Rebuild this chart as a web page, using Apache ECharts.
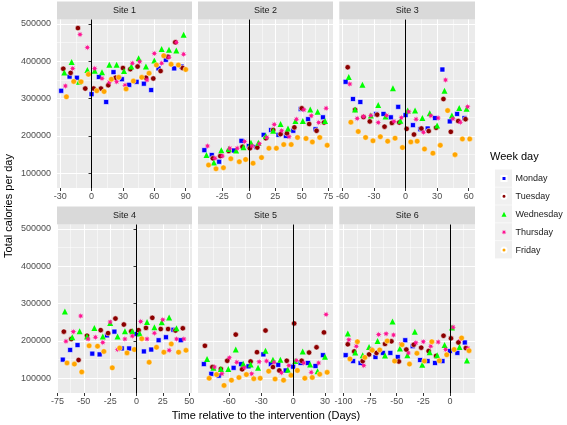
<!DOCTYPE html>
<html><head><meta charset="utf-8">
<script src="https://cdn.jsdelivr.net/npm/echarts@6/dist/echarts.min.js"></script>
<style>html,body{margin:0;padding:0;background:#fff}#c{width:567px;height:425px}</style>
</head><body><div id="c"></div>
<script>
// ---------------- DATA ----------------
const weekdays = ['Monday', 'Tuesday', 'Wednesday', 'Thursday', 'Friday'];
const siteNames = ['Site 1', 'Site 2', 'Site 3', 'Site 4', 'Site 5', 'Site 6'];
// [day relative to intervention, total calories (thousands)]
const s1Mon = [[-29,321],[-21,359],[-14,356],[0,312],[7,358],[14,291],[21,371],[29,352],[36,337],[43,345],[50,340],[57,323],[64,381],[71,404],[79,381],[86,386]];
const s1Tue = [[-27,380],[-20,369],[-13,489],[-6,327],[2,327],[9,327],[16,336],[23,356],[30,382],[37,379],[44,386],[52,356],[59,354],[66,374],[73,412],[80,451],[87,382]];
const s1Wed = [[-26,370],[-19,398],[-12,345],[-4,377],[3,375],[10,371],[17,391],[24,391],[31,374],[38,386],[45,408],[52,386],[60,402],[67,433],[74,431],[81,429],[88,471]];
const s1Thu = [[-25,334],[-18,381],[-11,472],[-4,437],[3,381],[10,354],[17,344],[24,345],[32,336],[39,395],[46,399],[53,350],[60,421],[67,395],[74,411],[81,451],[88,419]];
const s1Fri = [[-24,305],[-17,346],[-10,345],[-3,365],[5,321],[12,319],[19,352],[26,357],[33,326],[40,347],[48,357],[55,368],[62,390],[69,415],[76,392],[83,390],[90,378]];

const s2Mon = [[-42,162],[-35,149],[-28,131],[-14,161],[-7,187],[0,173],[7,170],[14,203],[21,216],[28,203],[35,200],[42,214],[49,272],[56,245],[63,218],[70,250]];
const s2Tue = [[-34,140],[-27,146],[-19,160],[-6,171],[1,167],[8,169],[16,194],[23,216],[30,205],[36,207],[43,223],[50,274],[57,232],[64,214],[71,236]];
const s2Wed = [[-40,149],[-33,129],[-26,162],[-19,165],[-12,161],[-5,170],[2,182],[9,182],[16,200],[23,214],[30,232],[37,220],[44,240],[51,240],[58,271],[65,265],[72,240]];
const s2Thu = [[-39,173],[-32,140],[-25,146],[-18,167],[-11,167],[-4,185],[3,173],[10,179],[17,196],[24,231],[31,214],[38,198],[45,245],[52,270],[59,254],[66,236],[73,274]];
const s2Fri = [[-38,122],[-31,112],[-24,115],[-17,139],[-9,131],[-3,137],[4,127],[12,142],[19,167],[26,167],[33,177],[40,177],[46,196],[54,193],[60,184],[67,196],[74,175]];

const s3Mon = [[-57,345],[-50,299],[-43,291],[-28,259],[-21,259],[-14,250],[-7,278],[0,256],[7,229],[14,218],[21,220],[28,248],[35,378],[42,239],[49,259],[56,248]];
const s3Tue = [[-55,384],[-48,270],[-40,251],[-34,239],[-27,257],[-20,225],[-13,235],[-6,236],[1,219],[8,204],[15,220],[22,213],[29,222],[36,299],[43,211],[50,240],[57,245]];
const s3Wed = [[-54,358],[-48,271],[-41,337],[-33,255],[-26,283],[-19,252],[-12,328],[-5,241],[2,268],[9,268],[16,248],[23,261],[30,228],[37,321],[44,255],[51,275],[58,273]];
const s3Thu = [[-53,339],[-46,247],[-40,252],[-33,255],[-26,236],[-18,255],[-11,239],[-4,249],[3,265],[10,245],[17,210],[24,254],[31,248],[38,350],[45,246],[52,237],[59,278]];
const s3Fri = [[-52,237],[-45,212],[-38,196],[-31,187],[-24,198],[-17,186],[-10,194],[-3,169],[5,184],[11,186],[18,165],[26,154],[33,175],[40,268],[47,150],[54,192],[61,192]];

const s4Mon = [[-70,150],[-63,176],[-56,189],[-42,166],[-35,164],[-28,215],[-21,225],[-14,180],[-7,180],[0,219],[7,172],[14,177],[21,202],[28,210],[35,230],[42,202]];
const s4Tue = [[-69,225],[-62,205],[-55,149],[-47,214],[-34,229],[-27,221],[-20,260],[-12,244],[-5,226],[2,229],[9,235],[15,262],[23,232],[30,232],[37,228],[44,234]];
const s4Wed = [[-68,279],[-61,210],[-54,226],[-47,212],[-40,235],[-32,212],[-25,248],[-18,212],[-11,226],[-4,226],[3,220],[10,251],[17,237],[24,250],[31,263],[38,234]];
const s4Thu = [[-67,199],[-60,225],[-53,267],[-46,205],[-39,210],[-32,196],[-25,251],[-18,177],[-11,205],[-4,213],[4,252],[10,205],[17,221],[25,257],[31,175],[38,205],[45,205]];
const s4Fri = [[-66,141],[-59,138],[-52,117],[-45,187],[-37,186],[-31,172],[-23,128],[-16,181],[-9,168],[-2,177],[5,206],[12,143],[19,183],[26,170],[33,192],[40,170],[47,175]];

const s5Mon = [[-84,138],[-77,112],[-70,107],[-56,128],[-49,138],[-42,132],[-28,164],[-21,138],[-14,136],[-7,121],[0,131],[7,141],[14,141],[21,133],[28,162]];
const s5Tue = [[-83,187],[-76,130],[-68,125],[-62,147],[-54,217],[-48,124],[-40,145],[-34,170],[-26,228],[-19,130],[-13,121],[-6,147],[1,247],[8,147],[15,169],[22,183],[29,223]];
const s5Wed = [[-81,152],[-75,128],[-68,125],[-61,125],[-54,177],[-47,139],[-40,137],[-33,128],[-26,174],[-19,150],[-12,150],[-5,123],[2,146],[9,172],[16,137],[23,119],[30,158]];
const s5Thu = [[-74,130],[-67,112],[-60,155],[-53,143],[-46,128],[-39,112],[-32,144],[-25,146],[-18,143],[-11,115],[-4,134],[3,148],[10,141],[17,116],[24,141],[31,271]];
const s5Fri = [[-79,100],[-72,110],[-65,81],[-58,95],[-51,102],[-44,110],[-37,99],[-31,100],[-23,119],[-17,98],[-9,95],[-2,108],[4,121],[11,100],[18,102],[25,111],[32,116]];

const s6Mon = [[-98,162],[-91,146],[-84,141],[-70,157],[-63,168],[-56,168],[-49,157],[-42,202],[-35,186],[-28,149],[-21,146],[-14,141],[-7,146],[0,173],[7,168],[14,196]];
const s6Tue = [[-96,191],[-90,172],[-82,146],[-76,164],[-69,168],[-61,192],[-55,199],[-48,145],[-41,177],[-34,190],[-27,182],[-20,173],[-13,160],[-6,214],[1,207],[8,196],[15,181]];
const s6Wed = [[-96,220],[-89,169],[-82,162],[-76,184],[-68,200],[-61,161],[-54,252],[-47,180],[-40,162],[-33,225],[-26,136],[-19,170],[-12,162],[-5,189],[2,236],[9,184],[16,148]];
const s6Thu = [[-95,203],[-88,186],[-81,134],[-74,178],[-67,217],[-60,219],[-53,216],[-46,192],[-39,168],[-32,195],[-25,198],[-18,186],[-11,197],[-4,177],[3,237],[10,204],[17,180]];
const s6Fri = [[-94,152],[-87,198],[-80,156],[-73,175],[-66,176],[-59,200],[-52,146],[-45,190],[-38,138],[-31,167],[-24,146],[-17,198],[-10,147],[-3,163],[4,177],[11,208],[18,174]];

// tick labels
const calTicks = [100000, 200000, 300000, 400000, 500000];
const calMinor = [150000, 250000, 350000, 450000];
const site1Ticks = [-30, 0, 30, 60, 90],        site1Minor = [-15, 15, 45, 75];
const site2Ticks = [-25, 0, 25, 50, 75],        site2Minor = [-37.5, -12.5, 12.5, 37.5, 62.5];
const site3Ticks = [-60, -30, 0, 30, 60],       site3Minor = [-45, -15, 15, 45];
const site4Ticks = [-75, -50, -25, 0, 25, 50],  site4Minor = [-62.5, -37.5, -12.5, 12.5, 37.5];
const site5Ticks = [-60, -30, 0, 30],           site5Minor = [-75, -45, -15, 15];
const site6Ticks = [-100, -75, -50, -25, 0],    site6Minor = [-87.5, -62.5, -37.5, -12.5, 12.5];
const interventionDay = 0;

// ---------------- LAYOUT / STYLE ----------------
const siteData = [
  [s1Mon, s1Tue, s1Wed, s1Thu, s1Fri],
  [s2Mon, s2Tue, s2Wed, s2Thu, s2Fri],
  [s3Mon, s3Tue, s3Wed, s3Thu, s3Fri],
  [s4Mon, s4Tue, s4Wed, s4Thu, s4Fri],
  [s5Mon, s5Tue, s5Wed, s5Thu, s5Fri],
  [s6Mon, s6Tue, s6Wed, s6Thu, s6Fri]
];
const siteTicks = [site1Ticks, site2Ticks, site3Ticks, site4Ticks, site5Ticks, site6Ticks];
const siteMinor = [site1Minor, site2Minor, site3Minor, site4Minor, site5Minor, site6Minor];
const xRanges = [[-33, 96], [-48, 79.5], [-63, 66], [-75.5, 52.7], [-89.5, 37.5], [-104, 23.6]];
const yRange = [60600, 512000];

const FONT = '"Liberation Sans", Arial, sans-serif';
const COL_L = [57, 198, 339.3];
const COL_W = [135, 135, 135.7];
const ROW_T = [19.5, 224.5];
const PH = 168.5;
const STRIP_H = 18;

const starPath = (function () {
  let s = 'path://';
  for (let i = 0; i < 16; i++) {
    const r = i % 2 ? 0.45 : 1;
    const a = Math.PI * i / 8 - Math.PI / 2;
    s += (i ? 'L' : 'M') + (r * Math.cos(a)).toFixed(3) + ' ' + (r * Math.sin(a)).toFixed(3) + ' ';
  }
  return s + 'Z';
})();
const dayStyle = [
  { symbol: 'rect', size: 5, color: '#0000FF', bw: 0.6 },
  { symbol: 'circle', size: 5.5, color: '#8B0000', bw: 0.6 },
  { symbol: 'triangle', size: 6, color: '#00FF00', bw: 0 },
  { symbol: starPath, size: 6, color: '#FF1493', bw: 0 },
  { symbol: 'circle', size: 5.5, color: '#FFA500', bw: 0.4 }
];

const grids = [], xAxes = [], yAxes = [], series = [], graphics = [];
for (let i = 0; i < 6; i++) {
  const col = i % 3, row = Math.floor(i / 3);
  grids.push({ left: COL_L[col], top: ROW_T[row], width: COL_W[col], height: PH,
    show: true, backgroundColor: '#EBEBEB', borderWidth: 0 });
  xAxes.push({ type: 'value', gridIndex: i, min: xRanges[i][0], max: xRanges[i][1],
    axisLine: { show: false },
    axisTick: { show: true, length: 3, lineStyle: { color: '#333', width: 1 }, customValues: siteTicks[i] },
    axisLabel: { customValues: siteTicks[i], fontSize: 9, color: '#4D4D4D', margin: 4, fontFamily: FONT,
      formatter: v => String(v) },
    splitLine: { show: true, lineStyle: { color: '#FFFFFF', width: 1 } } });
  xAxes.push({ type: 'value', gridIndex: i, min: xRanges[i][0], max: xRanges[i][1],
    axisLine: { show: false }, axisTick: { show: false, customValues: siteMinor[i] },
    axisLabel: { show: false, customValues: siteMinor[i] },
    splitLine: { show: true, lineStyle: { color: '#FFFFFF', width: 0.5 } } });
  yAxes.push({ type: 'value', gridIndex: i, min: yRange[0], max: yRange[1],
    axisLine: { show: false },
    axisTick: { show: col === 0, length: 3, lineStyle: { color: '#333', width: 1 }, customValues: calTicks },
    axisLabel: { show: col === 0, customValues: calTicks, fontSize: 9, color: '#4D4D4D', margin: 6, fontFamily: FONT,
      formatter: v => String(v) },
    splitLine: { show: true, lineStyle: { color: '#FFFFFF', width: 1 } } });
  yAxes.push({ type: 'value', gridIndex: i, min: yRange[0], max: yRange[1],
    axisLine: { show: false }, axisTick: { show: false, customValues: calMinor },
    axisLabel: { show: false, customValues: calMinor },
    splitLine: { show: true, lineStyle: { color: '#FFFFFF', width: 0.5 } } });

  weekdays.forEach((d, k) => {
    const st = dayStyle[k];
    const s = {
      type: 'scatter', name: d, xAxisIndex: 2 * i, yAxisIndex: 2 * i,
      symbol: st.symbol, symbolSize: st.size,
      itemStyle: { color: st.color, borderColor: '#FFFFFF', borderWidth: st.bw, opacity: 1 },
      data: siteData[i][k].map(p => [p[0], p[1] * 1000]),
      silent: true, animation: false
    };
    if (k === 4) {
      s.markLine = { silent: true, symbol: 'none', animation: false, label: { show: false },
        lineStyle: { color: '#000', width: 1, type: 'solid' },
        data: [{ xAxis: interventionDay }] };
    }
    series.push(s);
  });

  graphics.push({ type: 'rect', shape: { x: COL_L[col], y: ROW_T[row] - STRIP_H, width: COL_W[col], height: STRIP_H },
    style: { fill: '#D9D9D9' }, silent: true });
  graphics.push({ type: 'text', x: COL_L[col] + COL_W[col] / 2, y: ROW_T[row] - STRIP_H / 2,
    style: { text: siteNames[i], fontSize: 9, fontFamily: FONT, fill: '#1A1A1A', align: 'center', verticalAlign: 'middle' } });
}

// axis titles
graphics.push({ type: 'text', x: 9, y: 206, rotation: Math.PI / 2,
  style: { text: 'Total calories per day', fontSize: 11, fontFamily: FONT, fill: '#000', align: 'center', verticalAlign: 'middle' } });
graphics.push({ type: 'text', x: 266, y: 416,
  style: { text: 'Time relative to the intervention (Days)', fontSize: 11, fontFamily: FONT, fill: '#000', align: 'center', verticalAlign: 'middle' } });
// legend title and key boxes
graphics.push({ type: 'text', x: 490, y: 157,
  style: { text: 'Week day', fontSize: 11, fontFamily: FONT, fill: '#000', align: 'left', verticalAlign: 'middle' } });
const LEG_TOP = 169.5, LEG_ROW = 17.9;
for (let k = 0; k < weekdays.length; k++) {
  graphics.push({ type: 'rect', shape: { x: 495, y: LEG_TOP + k * LEG_ROW, width: 17, height: LEG_ROW - 0.6 },
    style: { fill: '#F0F0F0' }, silent: true });
}

const chart = echarts.init(document.getElementById('c'), null, { renderer: 'canvas' });
chart.setOption({
  animation: false,
  backgroundColor: '#FFFFFF',
  grid: grids,
  xAxis: xAxes,
  yAxis: yAxes,
  series: series,
  legend: {
    orient: 'vertical', left: 500.5, top: LEG_TOP, padding: 0, itemGap: 0,
    itemWidth: 5, itemHeight: 5, selectedMode: false,
    data: weekdays,
    textStyle: { fontSize: 9, fontFamily: FONT, color: '#1A1A1A', lineHeight: LEG_ROW, padding: [0, 0, 0, 4] }
  },
  graphic: graphics
});
</script>
</body></html>
